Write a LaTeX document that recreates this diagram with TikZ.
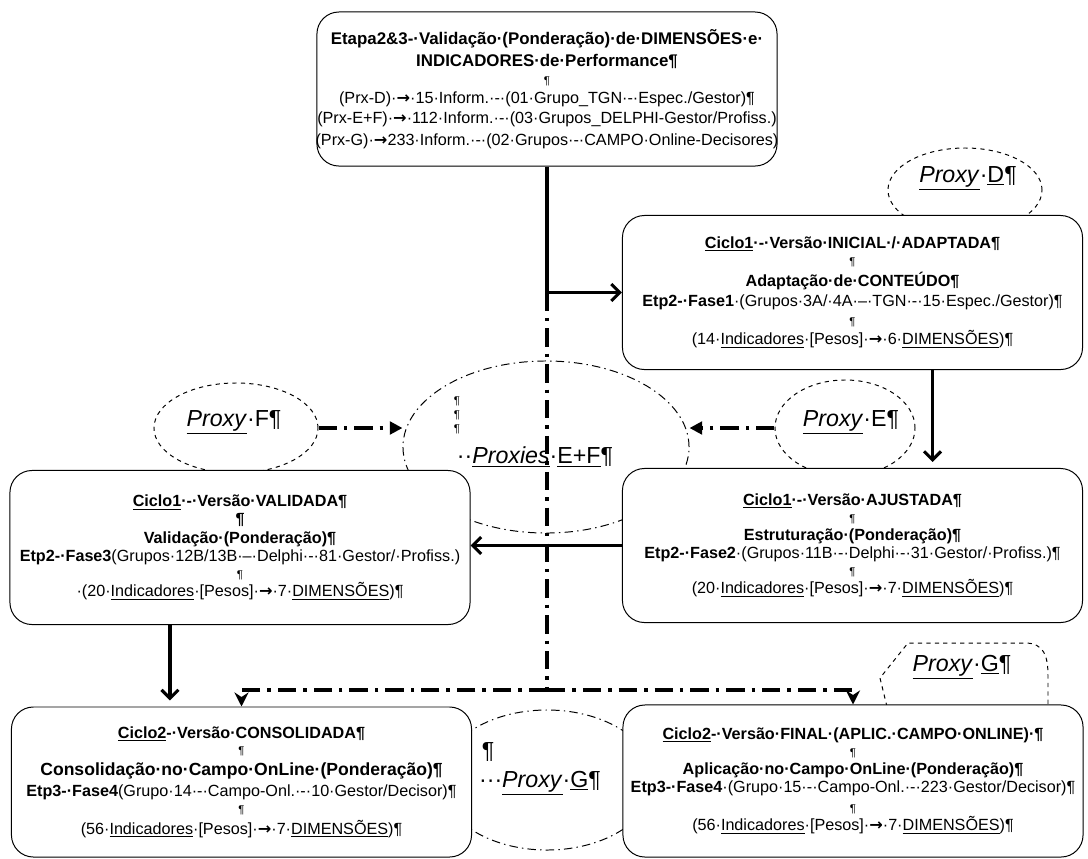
\documentclass[tikz,border=0pt]{standalone}
\usepackage{fontspec}
\setmainfont{Liberation Sans}
\newfontfamily\arrowfont{DejaVu Sans}
\usetikzlibrary{shapes.geometric,arrows.meta}
\setlength{\parindent}{0pt}

% linhas de texto das caixas
\newcommand{\boxhead}[2][13]{{\bfseries\fontsize{11.5}{#1}\selectfont\makebox[\hsize]{#2}\par}}
\newcommand{\boxtext}[2][13]{{\fontsize{11.5}{#1}\selectfont\makebox[\hsize]{#2}\par}}
\newcommand{\boxpil}[1][12]{{\fontsize{8}{#1}\selectfont\makebox[\hsize]{¶}\par}}
\newcommand{\arr}{{\arrowfont\bfseries →}}

\tikzset{
  etapa/.style={draw, line width=0.7pt, rounded corners=0.55cm, fill=white,
    minimum width=11.5cm, minimum height=3.85cm, text width=11.3cm, align=center, inner sep=0pt},
  proxy/.style={draw, ellipse, dashed, line width=0.7pt, inner sep=0pt},
  proxies/.style={draw, ellipse, line width=0.7pt, dash pattern=on 6pt off 3pt on 1pt off 3pt, inner sep=0pt},
  plabel/.style={font=\fontsize{16.5}{18}\selectfont, inner sep=0pt},
  flow/.style={line width=2.2pt, -{Straight Barb[length=6pt,width=12pt]}},
  ddline/.style={line width=2.6pt, dash pattern=on 13pt off 5pt on 2.5pt off 5pt},
  ddarrow/.style={ddline, -{Triangle[length=9pt,width=9pt]}}
}

\begin{document}
\begin{tikzpicture}[x=0.025cm, y=-0.025cm]
\useasboundingbox (0,0) rectangle (1088,858);

%Proxies
\node [proxy, minimum width=3.85cm, minimum height=2.1cm] (pxD) at (965,190) {};
\node [proxy, minimum width=3.5cm, minimum height=2.4cm] (pxE) at (845,428) {};
\node [proxy, minimum width=4.1cm, minimum height=2.25cm] (pxF) at (236,428) {};
\node [proxies, minimum width=7.15cm, minimum height=4.3cm] (pxEF) at (546,447) {};
\node [proxies, minimum width=5.35cm, minimum height=3.5cm] (pxGc) at (547,780) {};
%Proxy G
\draw [dashed, line width=0.7pt] (889,715) -- (880,678) -- (908,643) -- (1025,643)
  .. controls (1044,643) and (1048,656) .. (1048,676) -- (1048,715);

\node [plabel] (pxDtxt) at (968,178) {\underline{\textit{Proxy}}·\underline{D}¶};
\node [plabel] (pxEtxt) at (851,422) {\underline{\textit{Proxy}}·E¶};
\node [plabel] (pxFtxt) at (234,422) {\underline{\textit{Proxy}}·F¶};
\node [font=\fontsize{8}{10}\selectfont, align=left, inner sep=0pt] (pxEFpil) at (457,415) {¶\\¶\\¶};
\node [plabel] (pxEFtxt) at (535,457) {··\underline{\textit{Proxies}}·\underline{E+F}¶};
\node [plabel] (pxGcpil) at (488,752) {¶};
\node [plabel] (pxGctxt) at (540,783) {···\underline{\textit{Proxy}}·\underline{G}¶};
\node [plabel] (pxGtxt) at (962,667) {\underline{\textit{Proxy}}·\underline{G}¶};

%Etapa 2&3
\node [etapa] (top) at (547,89) {%
  \boxhead[15.5]{\fontsize{12}{15.5}\selectfont Etapa2\&3-·Validação·(Ponderação)·de·DIMENSÕES·e·}
  \boxhead[15.5]{\fontsize{12}{15.5}\selectfont INDICADORES·de·Performance¶}
  \boxpil[12.5]
  \boxtext[14.2]{(Prx-D)·\arr·15·Inform.·-·(01·Grupo\_TGN·-·Espec./Gestor)¶}
  \boxtext[14.2]{(Prx-E+F)·\arr·112·Inform.·-·(03·Grupos\_DELPHI-Gestor/Profiss.)}
  \boxtext[15]{(Prx-G)·\arr233·Inform.·-·(02·Grupos·-·CAMPO·Online-Decisores)}};
%Ciclo1 inicial
\node [etapa] (inicial) at (852.5,292.5) {%
  \boxhead{\underline{Ciclo1}·-·Versão·INICIAL·/·ADAPTADA¶}
  \boxpil
  \boxhead[15]{Adaptação·de·CONTEÚDO¶}
  \boxtext[14.5]{\textbf{Etp2-·Fase1}·(Grupos·3A/·4A·–·TGN·-·15·Espec./Gestor)¶}
  \boxpil[13]
  \boxtext[14]{(14·\underline{Indicadores}·[Pesos]·\arr·6·\underline{DIMENSÕES})¶}};
%Ciclo1 ajustada
\node [etapa] (ajust) at (852.5,545.5) {%
  \boxhead{\underline{Ciclo1}·-·Versão·AJUSTADA¶}
  \boxpil
  \boxhead{Estruturação·(Ponderação)¶}
  \boxtext{\textbf{Etp2-·Fase2}·(Grupos·11B·-·Delphi·-·31·Gestor/·Profiss.)¶}
  \boxpil
  \boxtext{(20·\underline{Indicadores}·[Pesos]·\arr·7·\underline{DIMENSÕES})¶}};
%Ciclo1 validada
\node [etapa] (valid) at (240,547.5) {%
  \boxhead{\underline{Ciclo1}·-·Versão·VALIDADA¶}
  \boxhead{¶}
  \boxhead{Validação·(Ponderação)¶}
  \boxtext{\textbf{Etp2-·Fase3}(Grupos·12B/13B·–·Delphi·-·81·Gestor/·Profiss.)}
  \boxpil
  \boxtext{·(20·\underline{Indicadores}·[Pesos]·\arr·7·\underline{DIMENSÕES})¶}};
%Ciclo2 consolidada
\node [etapa, minimum height=3.75cm] (cons) at (241.5,782) {%
  \boxhead{\underline{Ciclo2}-·Versão·CONSOLIDADA¶}
  \boxpil
  \boxhead[14.5]{\fontsize{12.5}{14.5}\selectfont Consolidação·no·Campo·OnLine·(Ponderação)¶}
  \boxtext[15]{\textbf{Etp3-·Fase4}(Grupo·14·-·Campo-Onl.·-·10·Gestor/Decisor)¶}
  \boxpil
  \boxtext[15]{(56·\underline{Indicadores}·[Pesos]·\arr·7·\underline{DIMENSÕES})¶}};
%Ciclo2 final
\node [etapa, minimum height=3.8cm] (final) at (853,781) {%
  \boxhead{\underline{Ciclo2}-·Versão·FINAL·(APLIC.·CAMPO·ONLINE)·¶}
  \boxpil
  \boxhead{Aplicação·no·Campo·OnLine·(Ponderação)¶}
  \boxtext{\textbf{Etp3-·Fase4}·(Grupo·15·-·Campo-Onl.·-·223·Gestor/Decisor)¶}
  \boxpil[14]
  \boxtext{(56·\underline{Indicadores}·[Pesos]·\arr·7·\underline{DIMENSÕES})¶}};

\coordinate (split) at (top.south |- inicial.west);
\coordinate (fork) at (547,690);

\draw [flow] (top.south) |- (inicial.west);
\draw [ddline] (split) -- (fork);
\draw [ddline, -{Stealth[length=10pt,width=10pt]}] (fork) -| (cons.north);
\draw [ddline, -{Stealth[length=10pt,width=10pt]}] (fork) -| (final.north);
\draw [ddarrow] (pxF.east) -- (pxF.east -| pxEF.west);
\draw [ddarrow] (pxE.west) -- (pxE.west -| pxEF.east);
\draw [flow, shorten >=0.15cm] ([xshift=2cm]inicial.south) -- ([xshift=2cm]inicial.south |- ajust.north);
\draw [flow] (ajust.west) -- (ajust.west -| valid.east);
\draw [flow, shorten >=0.15cm] ([xshift=-1.75cm]valid.south) -- ([xshift=-1.75cm]valid.south |- cons.north);

\end{tikzpicture}
\end{document}
